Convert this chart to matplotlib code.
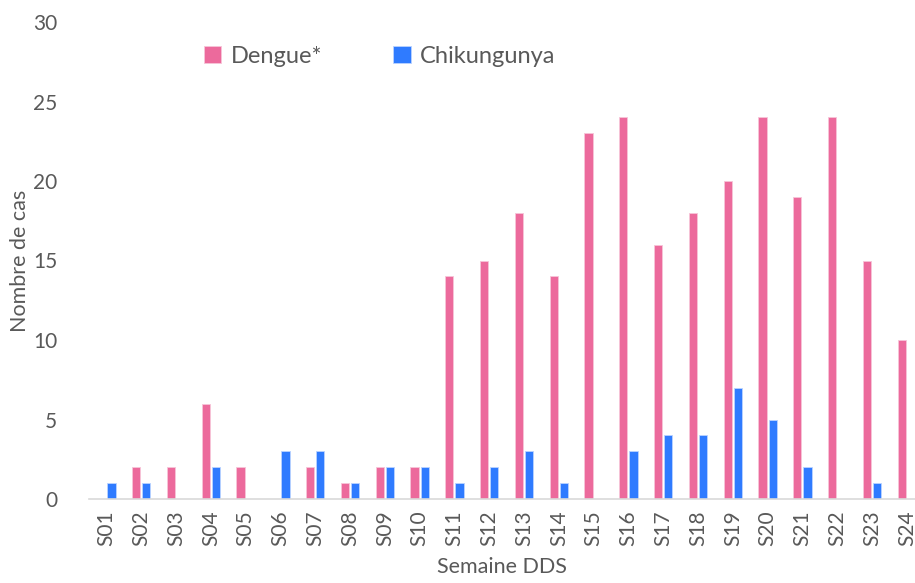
import matplotlib
matplotlib.use("Agg")
import matplotlib.pyplot as plt
import numpy as np

weeks = ["S%02d" % i for i in range(1, 25)]
dengue = [0, 2, 2, 6, 2, 0, 2, 1, 2, 2, 14, 15, 18, 14, 23, 24, 16, 18, 20, 24, 19, 24, 15, 10]
chik = [1, 1, 0, 2, 0, 3, 3, 1, 2, 2, 1, 2, 3, 1, 0, 3, 4, 4, 7, 5, 2, 0, 1, 0]

plt.rcParams['font.family'] = ['Lato', 'DejaVu Sans']
grey = '#595959'
pink = '#EC6A9C'
blue = '#2F7BFF'

fig = plt.figure(figsize=(9.15, 5.83), dpi=100)
ax = fig.add_axes([89/915, 1-499/583, 1-89/915, (499-22)/583])

x = np.arange(len(weeks))
w = 0.235
off = 0.145
ax.bar(x - off, dengue, w, color=pink, edgecolor='#F7C5D8', linewidth=0.6, label='Dengue*')
ax.bar(x + off, chik, w, color=blue, edgecolor='#BBD3FF', linewidth=0.6, label='Chikungunya')

ax.set_xlim(-0.5, -0.5 + (915-89)/34.8)
ax.set_ylim(0, 30)
ax.set_yticks(range(0, 31, 5))
ax.set_xticks(x)
ax.set_xticklabels(weeks, rotation=90)
ax.tick_params(axis='both', length=0, colors=grey, labelsize=15)
ax.tick_params(axis='y', pad=23)
ax.tick_params(axis='x', pad=8)
for s in ['top', 'right', 'left']:
    ax.spines[s].set_visible(False)
ax.spines['bottom'].set_color('#D9D9D9')
ax.spines['bottom'].set_linewidth(1.2)

ax.set_ylabel('Nombre de cas', color=grey, fontsize=15.5, labelpad=2)
ax.set_xlabel('Semaine DDS', color=grey, fontsize=15.5, labelpad=8)

leg = ax.legend(loc='upper left', bbox_to_anchor=(0.113, 0.995), ncol=2, frameon=False,
                fontsize=17, handlelength=0.75, handleheight=0.75, handletextpad=0.4,
                columnspacing=3.0)
for t in leg.get_texts():
    t.set_color(grey)

fig.savefig('out.png', dpi=100)
